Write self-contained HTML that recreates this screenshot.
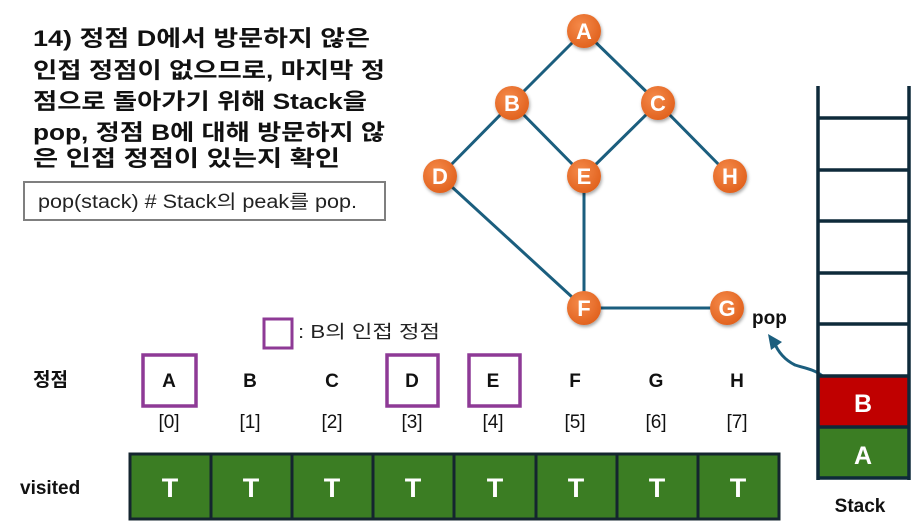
<!DOCTYPE html>
<html><head><meta charset="utf-8"><style>
body{margin:0;width:912px;height:530px;background:#fff;overflow:hidden;font-family:"Liberation Sans","Noto Sans CJK KR",sans-serif;}
</style></head><body>
<svg width="912" height="530" xmlns="http://www.w3.org/2000/svg" style="position:absolute;left:0;top:0;font-family:'Liberation Sans','Noto Sans CJK KR',sans-serif">
<defs>
<radialGradient id="g" cx="40%" cy="35%" r="70%"><stop offset="0" stop-color="#f58a4a"/><stop offset="1" stop-color="#e0601c"/></radialGradient>
<filter id="s"><feDropShadow dx="1" dy="2" stdDeviation="1.5" flood-opacity="0.35"/></filter>
</defs>
<g font-size="22" font-weight="bold" fill="#111">
<text x="33" y="46" textLength="337" lengthAdjust="spacingAndGlyphs">14) 정점 D에서 방문하지 않은</text>
<text x="33" y="78" textLength="352" lengthAdjust="spacingAndGlyphs">인접 정점이 없으므로, 마지막 정</text>
<text x="33" y="109" textLength="334" lengthAdjust="spacingAndGlyphs">점으로 돌아가기 위해 Stack을</text>
<text x="33" y="140" textLength="352" lengthAdjust="spacingAndGlyphs">pop, 정점 B에 대해 방문하지 않</text>
<text x="33" y="166" textLength="307" lengthAdjust="spacingAndGlyphs">은 인접 정점이 있는지 확인</text>
</g>
<rect x="24" y="182" width="361" height="38" fill="#fff" stroke="#7f7f7f" stroke-width="2"/>
<text x="38" y="208" font-size="19" fill="#222" textLength="319" lengthAdjust="spacingAndGlyphs">pop(stack) # Stack의 peak를 pop.</text>
<g stroke="#1b5e7e" stroke-width="3">
<line x1="584" y1="31" x2="512" y2="103"/><line x1="584" y1="31" x2="658" y2="103"/>
<line x1="512" y1="103" x2="440" y2="176"/><line x1="512" y1="103" x2="584" y2="176"/>
<line x1="658" y1="103" x2="584" y2="176"/><line x1="658" y1="103" x2="730" y2="176"/>
<line x1="440" y1="176" x2="584" y2="308"/><line x1="584" y1="176" x2="584" y2="308"/>
<line x1="584" y1="308" x2="727" y2="308"/>
</g>
<g font-size="22" font-weight="bold" fill="#fff" text-anchor="middle">
<g filter="url(#s)" fill="url(#g)">
<circle cx="584" cy="31" r="17"/><circle cx="512" cy="103" r="17"/><circle cx="658" cy="103" r="17"/>
<circle cx="440" cy="176" r="17"/><circle cx="584" cy="176" r="17"/><circle cx="730" cy="176" r="17"/>
<circle cx="584" cy="308" r="17"/><circle cx="727" cy="308" r="17"/>
</g>
<text x="584" y="39">A</text><text x="512" y="111">B</text><text x="658" y="111">C</text>
<text x="440" y="184">D</text><text x="584" y="184">E</text><text x="730" y="184">H</text>
<text x="584" y="316">F</text><text x="727" y="316">G</text>
</g>
<text x="752" y="324" font-size="19" font-weight="bold" fill="#111">pop</text>
<path d="M835 402 C830 370 810 370 795 365 C785 360 778 352 774 342" fill="none" stroke="#1b5e7e" stroke-width="3"/>
<polygon points="768,334 782,342 771,350" fill="#1b5e7e"/>
<rect x="264" y="319" width="28" height="29" fill="none" stroke="#8e3a96" stroke-width="3"/>
<text x="298" y="338" font-size="18" fill="#222" textLength="142" lengthAdjust="spacingAndGlyphs">: B의 인접 정점</text>
<text x="33" y="386" font-size="19" font-weight="bold" fill="#111">정점</text>
<g fill="none" stroke="#8e3a96" stroke-width="3.5">
<rect x="143" y="355" width="53" height="51"/><rect x="387" y="355" width="51" height="51"/><rect x="469" y="355" width="51" height="51"/>
</g>
<g font-size="19" fill="#111" text-anchor="middle" font-weight="bold">
<text x="169" y="387">A</text><text x="250" y="387">B</text><text x="332" y="387">C</text><text x="412" y="387">D</text>
<text x="493" y="387">E</text><text x="575" y="387">F</text><text x="656" y="387">G</text><text x="737" y="387">H</text>
</g>
<g font-size="19" fill="#111" text-anchor="middle">
<text x="169" y="428">[0]</text><text x="250" y="428">[1]</text><text x="332" y="428">[2]</text><text x="412" y="428">[3]</text>
<text x="493" y="428">[4]</text><text x="575" y="428">[5]</text><text x="656" y="428">[6]</text><text x="737" y="428">[7]</text>
</g>
<text x="20" y="494" font-size="19" font-weight="bold" fill="#111">visited</text>
<g fill="#3b7d23" stroke="#14252f" stroke-width="3">
<rect x="130" y="454" width="81" height="65"/><rect x="211" y="454" width="81" height="65"/><rect x="292" y="454" width="81" height="65"/><rect x="373" y="454" width="81" height="65"/>
<rect x="454" y="454" width="82" height="65"/><rect x="536" y="454" width="81" height="65"/><rect x="617" y="454" width="81" height="65"/><rect x="698" y="454" width="81" height="65"/>
</g>
<g font-size="27" font-weight="bold" fill="#fff" text-anchor="middle">
<text x="170" y="497">T</text><text x="251" y="497">T</text><text x="332" y="497">T</text><text x="413" y="497">T</text>
<text x="495" y="497">T</text><text x="576" y="497">T</text><text x="657" y="497">T</text><text x="738" y="497">T</text>
</g>
<rect x="818" y="376" width="91" height="51" fill="#c00000"/>
<rect x="818" y="427" width="91" height="51" fill="#3b7d23"/>
<g stroke="#0e2a3a" stroke-width="3.5" fill="none">
<line x1="818" y1="86" x2="818" y2="480"/><line x1="909" y1="86" x2="909" y2="480"/>
<line x1="818" y1="118" x2="909" y2="118"/><line x1="818" y1="170" x2="909" y2="170"/>
<line x1="818" y1="221" x2="909" y2="221"/><line x1="818" y1="273" x2="909" y2="273"/>
<line x1="818" y1="324" x2="909" y2="324"/><line x1="818" y1="376" x2="909" y2="376"/>
<line x1="818" y1="427" x2="909" y2="427"/><line x1="818" y1="478" x2="909" y2="478"/>
</g>
<g font-size="25" font-weight="bold" fill="#fff" text-anchor="middle">
<text x="863" y="412">B</text><text x="863" y="464">A</text>
</g>
<text x="860" y="512" font-size="19" font-weight="bold" fill="#111" text-anchor="middle">Stack</text>
</svg>
</body></html>
